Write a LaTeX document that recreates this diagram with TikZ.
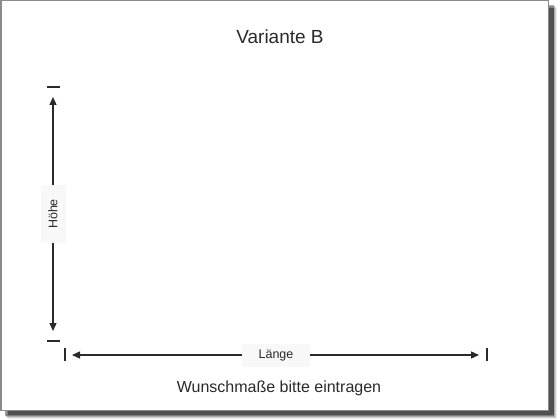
\documentclass[tikz,border=0pt]{standalone}
\usepackage{fontspec}
\setmainfont{Liberation Sans}
\usetikzlibrary{arrows.meta}
\definecolor{frame}{HTML}{8A8A8A}
\definecolor{ink}{HTML}{2A2A2A}
\definecolor{shadow}{HTML}{505050}
\definecolor{labelbg}{HTML}{F8F8F8}
\tikzset{
  dimline/.style={draw=ink, line width=1.3pt, -{Triangle[length=8pt,width=7pt]}},
  tick/.style={draw=ink, line width=1.3pt},
  dimlabel/.style={fill=labelbg, text=ink, font=\fontsize{12.5}{14}\selectfont, inner sep=0pt},
}
\begin{document}
\begin{tikzpicture}[x=1pt,y=-1pt]
\useasboundingbox (0,0) rectangle (560,420);
\fill[white] (0,0) rectangle (560,420);
% shadow
\foreach \o/\a in {8/0.10,7/0.18,6/0.3,5/0.5} {
  \fill[shadow, opacity=\a] (5+\o-5,5+\o-5) rectangle (549+\o,411+\o);
}
\fill[shadow] (8,8) rectangle (554,415);
% panel
\fill[white] (0.75,0.75) rectangle (548.5,410.5);
\draw[frame, line width=1.5pt] (0.75,0.75) rectangle (548.5,410.5);
% texts
\node[text=ink, font=\fontsize{19}{22}\selectfont] (title) at (280,37) {Variante B};
\node[text=ink, font=\fontsize{16}{19}\selectfont] (note) at (279,388) {Wunschmaße bitte eintragen};
% vertical dimension
\coordinate (vtopT) at (53,97);
\coordinate (vbotT) at (53,331);
\node[dimlabel, rotate=90, minimum width=58pt, minimum height=25pt] (hoehe) at (53,214) {Höhe};
\draw[dimline] (hoehe.east) -- (vtopT);
\draw[dimline] (hoehe.west) -- (vbotT);
\coordinate (tt1) at (47,87); \coordinate (tt2) at (60,87);
\coordinate (tb1) at (47,341); \coordinate (tb2) at (60,341);
\draw[tick] (tt1) -- (tt2);
\draw[tick] (tb1) -- (tb2);
% horizontal dimension
\coordinate (hleftT) at (72,355);
\coordinate (hrightT) at (479,355);
\node[dimlabel, minimum width=68pt, minimum height=23pt] (laenge) at (276,355) {Länge};
\draw[dimline] (laenge.west) -- (hleftT);
\draw[dimline] (laenge.east) -- (hrightT);
\coordinate (tl1) at (65,348); \coordinate (tl2) at (65,361);
\coordinate (tr1) at (487,348); \coordinate (tr2) at (487,361);
\draw[tick] (tl1) -- (tl2);
\draw[tick] (tr1) -- (tr2);
\end{tikzpicture}
\end{document}
